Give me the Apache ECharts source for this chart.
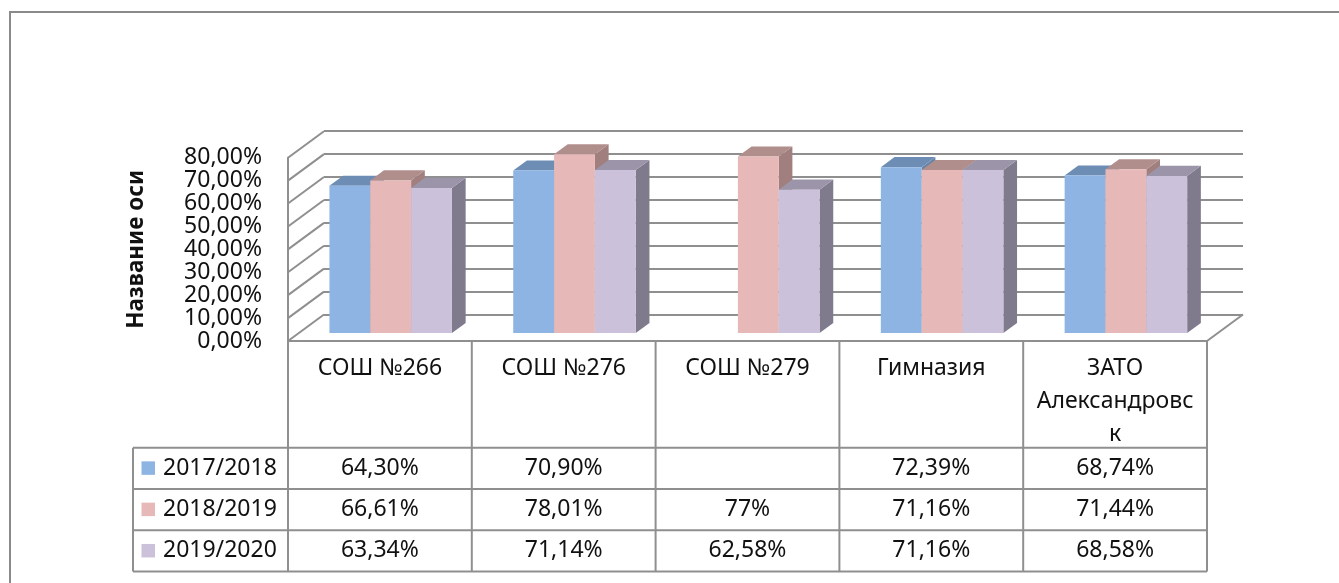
<!DOCTYPE html>
<html><head><meta charset="utf-8">
<script src="https://cdn.jsdelivr.net/npm/echarts@6/dist/echarts.min.js"></script>
<style>html,body{margin:0;padding:0;background:#fff}#c{width:1339px;height:583px}</style>
</head><body><div id="c"></div>
<script>
// ---- data ----
const categories = ['СОШ №266', 'СОШ №276', 'СОШ №279', 'Гимназия', 'ЗАТО Александровск'];
const seriesNames = ['2017/2018', '2018/2019', '2019/2020'];
const values2017 = [64.30, 70.90, null, 72.39, 68.74];
const values2018 = [66.61, 78.01, 77, 71.16, 71.44];
const values2019 = [63.34, 71.14, 62.58, 71.16, 68.58];
const yTicks = [0, 10, 20, 30, 40, 50, 60, 70, 80];
const axisTitle = 'Название оси';

// ---- style ----
const seriesValues = [values2017, values2018, values2019];
const frontColors = ['#8EB4E3', '#E6B9B8', '#CCC1DA'];
const topColors = ['#6D8DB5', '#B08E8C', '#9C94A8'];
const sideColors = ['#6A84A6', '#A07F7E', '#7F7A8C'];
const G = {left: 288, top: 157.7, width: 919, height: 183.3};
const DEPTH = [36, -26.5];
const FRONT_F = 0.30, BACK_F = 0.68;
const FONT_FAMILY = '"Noto Sans", sans-serif';
const FS = 23;
const GRID_COLOR = '#8f8f8f';
const TEXT_COLOR = '#111';

function pct(v) { return v.toFixed(2).replace('.', ',') + '%'; }
function cellText(v) {
  if (v == null) return '';
  const r = Math.round(v * 100) / 100;
  return (Number.isInteger(r) ? String(r) : r.toFixed(2).replace('.', ',')) + '%';
}
const mctx = document.createElement('canvas').getContext('2d');
function wrap(text, font, maxW) {
  mctx.font = font;
  const lines = []; let line = '';
  text.split(' ').forEach(word => {
    const cand = line ? line + ' ' + word : word;
    if (mctx.measureText(cand).width <= maxW) { line = cand; return; }
    if (line) { lines.push(line); line = ''; }
    let cur = '';
    for (const ch of word) {
      if (cur && mctx.measureText(cur + ch).width > maxW) { lines.push(cur); cur = ch; }
      else cur += ch;
    }
    line = cur;
  });
  if (line) lines.push(line);
  return lines.join('\n');
}

function barRender(s) {
  return function (params, api) {
    const i = api.value(0), v = api.value(1);
    if (v == null || isNaN(v)) return;
    const c = api.coord([i, v]), b = api.coord([i, 0]);
    const bw = api.size([1, 0])[0] / 4.5;
    const xl = c[0] + (s - 1.5) * bw;
    const fx = DEPTH[0] * FRONT_F, fy = DEPTH[1] * FRONT_F;
    const ddx = DEPTH[0] * (BACK_F - FRONT_F), ddy = DEPTH[1] * (BACK_F - FRONT_F);
    const x0 = xl + fx, x1 = x0 + bw, yt = c[1] + fy, yb = b[1] + fy;
    return {type: 'group', children: [
      {type: 'polygon', shape: {points: [[x1, yt], [x1 + ddx, yt + ddy], [x1 + ddx, yb + ddy], [x1, yb]]}, style: {fill: sideColors[s]}},
      {type: 'polygon', shape: {points: [[x0, yt], [x0 + ddx, yt + ddy], [x1 + ddx, yt + ddy], [x1, yt]]}, style: {fill: topColors[s]}},
      {type: 'rect', shape: {x: x0, y: yt, width: bw, height: yb - yt}, style: {fill: frontColors[s]}}
    ]};
  };
}

function wallRender(params, api) {
  const t = api.value(1);
  const y = api.coord([0, t])[1];
  const cs = params.coordSys;
  const lineStyle = {stroke: GRID_COLOR, lineWidth: 2};
  const children = [{type: 'line', shape: {x1: cs.x, y1: y, x2: cs.x + DEPTH[0], y2: y + DEPTH[1]}, style: lineStyle}];
  if (t === 0) {
    children.push({type: 'line', shape: {x1: cs.x + cs.width, y1: y, x2: cs.x + cs.width + DEPTH[0], y2: y + DEPTH[1]}, style: lineStyle});
  }
  return {type: 'group', children};
}

// ---- table graphics ----
const colW = G.width / categories.length;
const tBottom = G.top + G.height;
const headerH = 106.7, rowH = 41.3;
const legendLeft = 133;
const rowsTop = tBottom + headerH;
const font = FS + 'px ' + FONT_FAMILY;
const graphics = [];
const lineStyle = {stroke: GRID_COLOR, lineWidth: 2};
graphics.push({type: 'rect', shape: {x: 10, y: 12, width: 1400, height: 600}, style: {fill: null, stroke: '#8a8a8a', lineWidth: 2}, silent: true});
for (let k = 0; k <= categories.length; k++) {
  const x = G.left + k * colW;
  graphics.push({type: 'line', shape: {x1: x, y1: tBottom, x2: x, y2: rowsTop + 3 * rowH}, style: lineStyle});
}
graphics.push({type: 'line', shape: {x1: legendLeft, y1: rowsTop, x2: legendLeft, y2: rowsTop + 3 * rowH}, style: lineStyle});
for (let r = 0; r <= seriesNames.length; r++) {
  const y = rowsTop + r * rowH;
  graphics.push({type: 'line', shape: {x1: legendLeft, y1: y, x2: G.left + G.width, y2: y}, style: lineStyle});
}
categories.forEach((c, k) => {
  graphics.push({type: 'text', x: G.left + (k + 0.5) * colW, y: tBottom + 11,
    style: {text: wrap(c, font, 166), font: font, fill: TEXT_COLOR, align: 'center', textAlign: 'center',
      verticalAlign: 'top', textVerticalAlign: 'top', lineHeight: 33}});
});
seriesNames.forEach((n, r) => {
  const yc = rowsTop + (r + 0.5) * rowH;
  graphics.push({type: 'rect', shape: {x: 141.5, y: yc - 7, width: 13.5, height: 13.5}, style: {fill: frontColors[r]}});
  graphics.push({type: 'text', x: 163, y: yc, style: {text: n, font: font, fill: TEXT_COLOR, align: 'left', textAlign: 'left', verticalAlign: 'middle', textVerticalAlign: 'middle'}});
  seriesValues[r].forEach((v, k) => {
    graphics.push({type: 'text', x: G.left + (k + 0.5) * colW, y: yc, style: {text: cellText(v), font: font, fill: TEXT_COLOR, align: 'center', textAlign: 'center', verticalAlign: 'middle', textVerticalAlign: 'middle'}});
  });
});

const chart = echarts.init(document.getElementById('c'), null, {renderer: 'canvas'});
const yMin = yTicks[0], yMax = yTicks[yTicks.length - 1], yInt = yTicks[1] - yTicks[0];
chart.setOption({
  animation: false,
  backgroundColor: '#fff',
  grid: [
    {left: G.left, top: G.top, width: G.width, height: G.height},
    {left: G.left + DEPTH[0], top: G.top + DEPTH[1], width: G.width, height: G.height}
  ],
  xAxis: [
    {type: 'category', gridIndex: 0, data: categories, boundaryGap: true,
      axisLine: {show: true, lineStyle: {color: GRID_COLOR, width: 2}}, axisTick: {show: false}, axisLabel: {show: false}},
    {type: 'category', gridIndex: 1, data: categories, show: false}
  ],
  yAxis: [
    {type: 'value', gridIndex: 0, min: yMin, max: yMax, interval: yInt,
      name: axisTitle, nameLocation: 'middle', nameRotate: 90, nameGap: 140,
      nameTextStyle: {fontFamily: FONT_FAMILY, fontSize: 22.5, fontWeight: 'bold', color: TEXT_COLOR},
      axisLine: {show: true, lineStyle: {color: GRID_COLOR, width: 2}}, axisTick: {show: false},
      splitLine: {show: false},
      axisLabel: {formatter: pct, fontFamily: FONT_FAMILY, fontSize: FS, color: TEXT_COLOR, margin: 26}},
    {type: 'value', gridIndex: 1, min: yMin, max: yMax, interval: yInt,
      axisLine: {show: false}, axisTick: {show: false}, axisLabel: {show: false},
      splitLine: {show: true, lineStyle: {color: GRID_COLOR, width: 2}}}
  ],
  series: [
    {type: 'custom', xAxisIndex: 0, yAxisIndex: 0, renderItem: wallRender, data: yTicks.map(t => [0, t]), z: 1, silent: true}
  ].concat(seriesNames.map((n, s) => ({
    type: 'custom', name: n, xAxisIndex: 0, yAxisIndex: 0, renderItem: barRender(s),
    encode: {x: 0, y: 1}, z: 2 + s,
    data: seriesValues[s].map((v, i) => [i, v == null ? '-' : v])
  }))),
  graphic: {elements: graphics}
});
</script>
</body></html>
